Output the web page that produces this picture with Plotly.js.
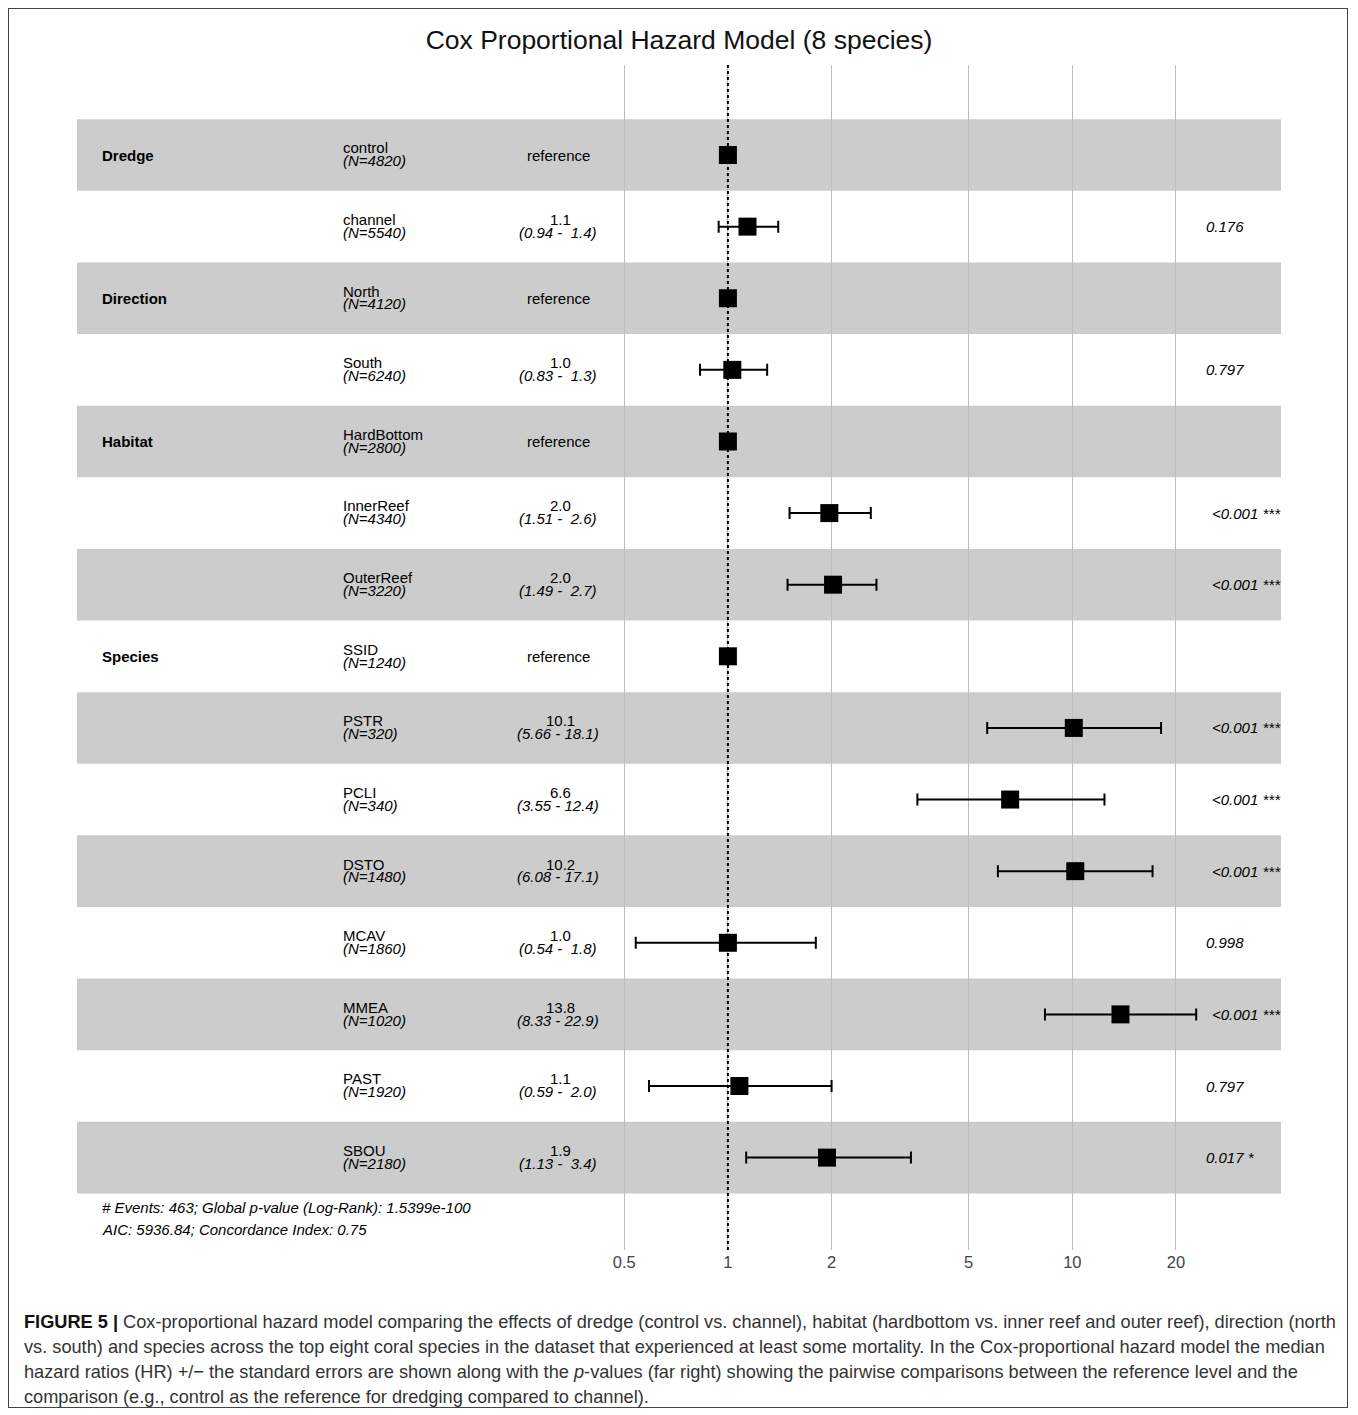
<!DOCTYPE html>
<html><head><meta charset="utf-8">
<script src="https://cdn.plot.ly/plotly-3.0.1.min.js"></script>
<style>body{margin:0;background:#fff}#frame{position:absolute;left:8px;top:8px;width:1340px;height:1400px;border:1px solid #444;box-sizing:border-box}
#cap{position:absolute;left:24px;top:1310px;width:1315px;font-family:'Liberation Sans',Arial,sans-serif;font-size:18.2px;line-height:25px;color:#333}</style>
</head><body>
<div id="frame"></div>
<div id="chart" style="position:absolute;left:0;top:0;width:1358px;height:1300px"></div>
<div id="cap"><b style="color:#111">FIGURE 5 |</b> Cox-proportional hazard model comparing the effects of dredge (control vs. channel), habitat (hardbottom vs. inner reef and outer reef), direction (north vs. south) and species across the top eight coral species in the dataset that experienced at least some mortality. In the Cox-proportional hazard model the median hazard ratios (HR) +/&minus; the standard errors are shown along with the <i>p</i>-values (far right) showing the pairwise comparisons between the reference level and the comparison (e.g., control as the reference for dredging compared to channel).</div>
<script>
const groups = ["Dredge","","Direction","","Habitat","","","Species","","","","","","",""];
const levels = ["control","channel","North","South","HardBottom","InnerReef","OuterReef","SSID","PSTR","PCLI","DSTO","MCAV","MMEA","PAST","SBOU"];
const counts = [4820,5540,4120,6240,2800,4340,3220,1240,320,340,1480,1860,1020,1920,2180];
const hr =    [1,1.14,1,1.03,1,1.97,2.02,1,10.1,6.6,10.2,1.0,13.8,1.08,1.94];
const lower = [null,0.94,null,0.83,null,1.51,1.49,null,5.66,3.55,6.08,0.54,8.33,0.59,1.13];
const upper = [null,1.4,null,1.3,null,2.6,2.7,null,18.1,12.4,17.1,1.8,22.9,2.0,3.4];
const hrText = ["","1.1","","1.0","","2.0","2.0","","10.1","6.6","10.2","1.0","13.8","1.1","1.9"];
const ciText = ["","(0.94 -  1.4)","","(0.83 -  1.3)","","(1.51 -  2.6)","(1.49 -  2.7)","","(5.66 - 18.1)","(3.55 - 12.4)","(6.08 - 17.1)","(0.54 -  1.8)","(8.33 - 22.9)","(0.59 -  2.0)","(1.13 -  3.4)"];
const pText = ["","0.176","","0.797","","<0.001 ***","<0.001 ***","","<0.001 ***","<0.001 ***","<0.001 ***","0.998","<0.001 ***","0.797","0.017 *"];
const tickVals = [0.5,1,2,5,10,20];

const F = "'Liberation Sans', Arial, sans-serif";
const FS = 15;
const rows = levels.map((_, i) => i);
const px = p => (p - 77) / 1204;
const shapes = [], ann = [];
rows.forEach(i => {
  if (i % 2 === 0) shapes.push({type:'rect', xref:'paper', x0:0, x1:1, y0:i-0.5, y1:i+0.5, fillcolor:'#cccccc', line:{width:0}, layer:'below'});
  if (groups[i]) ann.push({xref:'paper', x:px(100), y:i, text:'<b>'+groups[i]+'</b>', showarrow:false, xanchor:'left', font:{family:F,size:FS,color:'#000'}});
  ann.push({xref:'paper', x:px(341), y:i-0.1, text:levels[i], showarrow:false, xanchor:'left', font:{family:F,size:FS,color:'#000'}});
  ann.push({xref:'paper', x:px(341), y:i+0.08, text:'<i>(N='+counts[i]+')</i>', showarrow:false, xanchor:'left', font:{family:F,size:FS,color:'#000'}});
  if (lower[i] === null) {
    ann.push({xref:'paper', x:px(558), y:i, text:'reference', showarrow:false, xanchor:'center', font:{family:F,size:FS,color:'#000'}});
  } else {
    ann.push({xref:'paper', x:px(560), y:i-0.1, text:hrText[i], showarrow:false, xanchor:'center', font:{family:F,size:FS,color:'#000'}});
    ann.push({xref:'paper', x:px(558), y:i+0.08, text:'<i>'+ciText[i]+'</i>', showarrow:false, xanchor:'center', font:{family:F,size:FS,color:'#000'}});
    ann.push({xref:'paper', x:px(pText[i].startsWith('<')?1210:1204), y:i, text:'<i>'+pText[i].replace('<','&lt;')+'</i>', showarrow:false, xanchor:'left', font:{family:F,size:FS,color:'#000'}});
  }
});
ann.push({xref:'paper', x:px(100), y:14.7, text:'<i># Events: 463; Global p-value (Log-Rank): 1.5399e-100</i>', showarrow:false, xanchor:'left', font:{family:F,size:FS,color:'#000'}});
ann.push({xref:'paper', x:px(100), y:15.0, text:'<i>AIC: 5936.84; Concordance Index: 0.75</i>', showarrow:false, xanchor:'left', font:{family:F,size:FS,color:'#000'}});
shapes.push({type:'line', x0:1, x1:1, yref:'paper', y0:0, y1:1, line:{color:'#000', width:2, dash:'dot'}, layer:'above'});

const trace = {
  type:'scatter', mode:'markers', x:hr, y:rows,
  marker:{symbol:'square', size:18, color:'#000'},
  error_x:{type:'data', symmetric:false,
    array: hr.map((h,i)=> upper[i]===null?0:upper[i]-h),
    arrayminus: hr.map((h,i)=> lower[i]===null?0:h-lower[i]),
    color:'#000', thickness:2, width:6, visible:true},
  hoverinfo:'skip'
};
Plotly.newPlot('chart', [trace], {
  width:1358, height:1300,
  margin:{l:77, r:77, t:65, b:50},
  paper_bgcolor:'rgba(0,0,0,0)', plot_bgcolor:'rgba(0,0,0,0)',
  title:{text:'Cox Proportional Hazard Model (8 species)', x:0.5, xanchor:'center', y:1-40/1300, yanchor:'middle', font:{family:F, size:26.5, color:'#111'}},
  xaxis:{type:'log', range:[-1.890, 1.606], tickvals:tickVals, ticktext:tickVals.map(String), showgrid:true, gridcolor:'#bdbdbd', gridwidth:1, zeroline:false, showline:false, ticks:'', tickfont:{family:F, size:16.5, color:'#444'}},
  yaxis:{range:[15.29,-1.257], showgrid:false, zeroline:false, showticklabels:false, ticks:''},
  shapes:shapes, annotations:ann, showlegend:false
}, {staticPlot:true});
</script></body></html>
